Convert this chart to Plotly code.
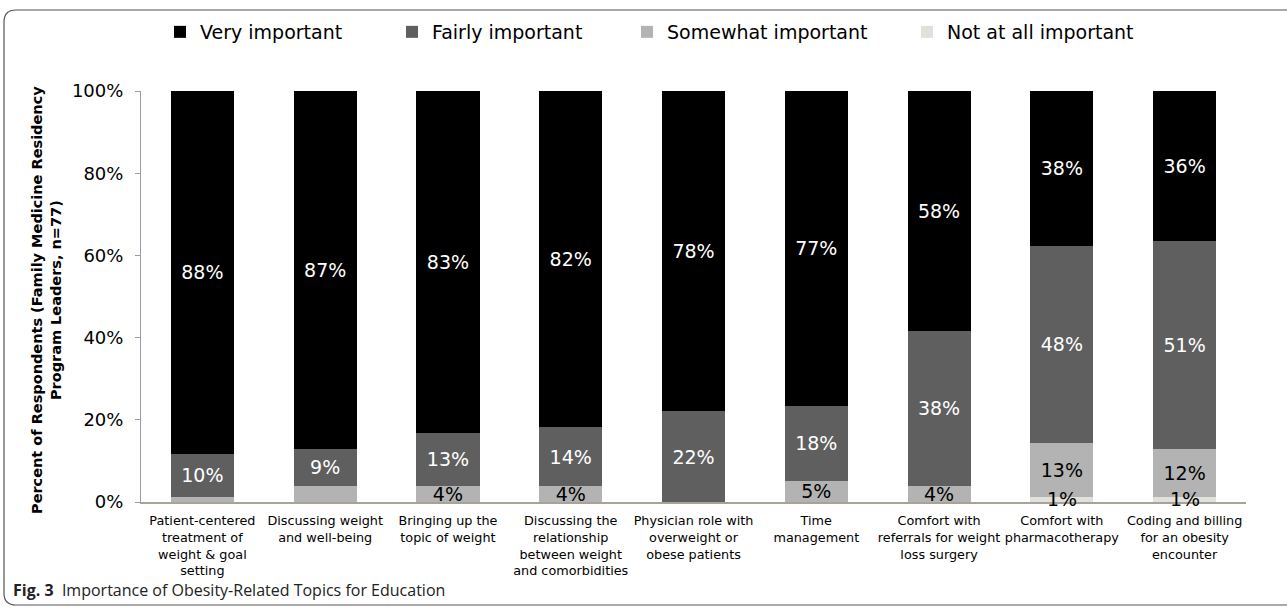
import plotly.graph_objects as go

categories = [
    "Patient-centered<br>treatment of<br>weight & goal<br>setting",
    "Discussing weight<br>and well-being",
    "Bringing up the<br>topic of weight",
    "Discussing the<br>relationship<br>between weight<br>and comorbidities",
    "Physician role with<br>overweight or<br>obese patients",
    "Time<br>management",
    "Comfort with<br>referrals for weight<br>loss surgery",
    "Comfort with<br>pharmacotherapy",
    "Coding and billing<br>for an obesity<br>encounter",
]

not_at_all = [0, 0, 0, 0, 0, 0, 0, 1.3, 1.3]
somewhat = [1.3, 3.9, 3.9, 3.9, 0, 5.2, 3.9, 13.0, 11.7]
fairly = [10.4, 9.1, 13.0, 14.3, 22.1, 18.2, 37.7, 48.1, 50.6]
very = [88.3, 87.0, 83.1, 81.8, 77.9, 76.6, 58.4, 37.7, 36.4]

not_at_all_labels = ["", "", "", "", "", "", "", "1%", "1%"]
somewhat_labels = ["", "", "4%", "4%", "", "5%", "4%", "13%", "12%"]
fairly_labels = ["10%", "9%", "13%", "14%", "22%", "18%", "38%", "48%", "51%"]
very_labels = ["88%", "87%", "83%", "82%", "78%", "77%", "58%", "38%", "36%"]

y_ticks = [0, 20, 40, 60, 80, 100]
y_tick_labels = ["0%", "20%", "40%", "60%", "80%", "100%"]

FONT = "DejaVu Sans"

W, H = 1287, 613
L, R, T, B = 141, 41, 91, 111
pw, ph = W - L - R, H - T - B

def px(x):
    return (x - L) / pw

def py(y):
    return (H - B - y) / ph

# (name, values, bar labels, fill, text colour, legend id, legend text start px)
series = [
    ("Not at all important", not_at_all, None, "#e2e0da", "#000000", "legend4", 947),
    ("Somewhat important", somewhat, somewhat_labels, "#b3b3b3", "#000000", "legend3", 667),
    ("Fairly important", fairly, fairly_labels, "#5f5f5f", "#ffffff", "legend2", 432),
    ("Very important", very, very_labels, "#000000", "#ffffff", "legend", 200),
]

fig = go.Figure()
legends = {}
for name, vals, labels, color, tcolor, leg, lx in series:
    fig.add_trace(go.Bar(
        name=name,
        x=categories,
        y=vals,
        text=labels,
        textposition="inside" if labels else "none",
        insidetextanchor="middle",
        constraintext="none",
        textangle=0,
        textfont=dict(family=FONT, size=19, color=tcolor),
        marker=dict(color=color, line=dict(width=0)),
        legend=leg,
        hoverinfo="skip",
    ))
    legends[leg] = dict(
        orientation="h",
        x=px(lx - 40), y=py(32), xanchor="left", yanchor="middle",
        font=dict(family=FONT, size=19),
        itemwidth=30,
        bgcolor="rgba(0,0,0,0)",
    )

# rounded frame
x0, y0, x1, y1, rr = 4, 10, 1300, 605, 12
frame = (
    f"M {px(x0 + rr)},{py(y0)} L {px(x1)},{py(y0)} "
    f"M {px(x0 + rr)},{py(y0)} Q {px(x0)},{py(y0)} {px(x0)},{py(y0 + rr)} "
    f"L {px(x0)},{py(y1 - rr)} Q {px(x0)},{py(y1)} {px(x0 + rr)},{py(y1)} "
    f"L {px(x1)},{py(y1)}"
)

annotations = [
    dict(
        text="<b>Percent of Respondents (Family Medicine Residency<br>Program Leaders, n=77)</b>",
        x=px(46), y=py(300), xref="paper", yref="paper",
        xanchor="center", yanchor="middle", textangle=-90,
        showarrow=False, font=dict(family=FONT, size=14.5),
    ),
    dict(
        text="<b>Fig. 3</b>  Importance of Obesity-Related Topics for Education",
        x=px(11), y=py(590), xref="paper", yref="paper",
        xanchor="left", yanchor="middle",
        showarrow=False, font=dict(family="Open Sans", size=16, color="#222222"),
    ),
]
# labels of the thin "Not at all important" segments, centred on them and
# spilling over the axis line as in the reference
for cat, val, lab in zip(categories, not_at_all, not_at_all_labels):
    if lab:
        annotations.append(dict(
            text=lab, x=cat, y=val / 2, xref="x", yref="y",
            xanchor="center", yanchor="middle", showarrow=False,
            font=dict(family=FONT, size=19, color="#000000"),
        ))

fig.update_layout(
    barmode="stack",
    bargap=0.486,
    width=W,
    height=H,
    margin=dict(l=L, r=R, t=T, b=B, autoexpand=False),
    paper_bgcolor="white",
    plot_bgcolor="white",
    font=dict(family=FONT, color="#000000"),
    showlegend=True,
    xaxis=dict(
        showline=True, linecolor="#a8a29a", linewidth=2,
        ticks="", showgrid=False,
        tickangle=0,
        tickfont=dict(family=FONT, size=12.8),
        ticklabelstandoff=6,
        automargin=False,
    ),
    yaxis=dict(
        range=[0, 100],
        tickvals=y_ticks,
        ticktext=y_tick_labels,
        showline=True, linecolor="#9a9aaa", linewidth=1,
        ticks="outside", ticklen=5, tickcolor="#9a9aaa",
        ticklabelstandoff=8,
        showgrid=False, zeroline=False,
        tickfont=dict(family=FONT, size=18),
        automargin=False,
    ),
    shapes=[dict(
        type="path", path=frame, xref="paper", yref="paper",
        line=dict(color="#555555", width=1.2), layer="above",
    )],
    annotations=annotations,
)
fig.update_layout(**legends)

fig.write_html("out.html")
